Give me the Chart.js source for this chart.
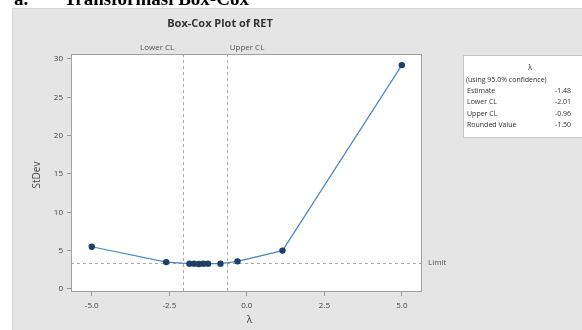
<!DOCTYPE html>
<html lang="id">
<head>
<meta charset="UTF-8">
<title>Box-Cox Plot of RET</title>
<script src="https://cdn.jsdelivr.net/npm/chart.js"></script>
<style>
  body { margin: 0; background: #fff; }
  .wrap { width: 582px; height: 330px; position: relative; }
</style>
</head>
<body>
<div class="wrap"><canvas id="boxcox" width="582" height="330"></canvas></div>
<script>
  // values
  const lambdas = [-5, -2.6, -1.85, -1.7, -1.55, -1.4, -1.25, -0.85, -0.3, 1.15, 5];
  const stdevs = [5.5, 3.5, 3.3, 3.3, 3.25, 3.3, 3.3, 3.3, 3.6, 5.0, 29.2];
  const xTicks = [-5, -2.5, 0, 2.5, 5];
  const yTicks = [0, 5, 10, 15, 20, 25, 30];
  const lowerCL = -2.05, upperCL = -0.65, limit = 3.4;
  const legendRows = [["Estimate", "-1.48"], ["Lower CL", "-2.01"], ["Upper CL", "-0.96"], ["Rounded Value", "-1.50"]];

  const font = '"Open Sans", "DejaVu Sans", sans-serif';

  const decor = {
    id: 'decor',
    beforeDraw(chart) {
      const c = chart.ctx, a = chart.chartArea;
      c.save();
      c.fillStyle = '#fff';
      c.fillRect(0, 0, 582, 330);
      c.fillStyle = '#e5e5e5';
      c.fillRect(12, 8, 570, 322);
      c.strokeStyle = '#d6d6d6';
      c.strokeRect(12.5, 8.5, 570, 322);
      c.fillStyle = '#fff';
      c.fillRect(a.left, a.top, a.right - a.left, a.bottom - a.top);
      // clipped heading of the document
      c.fillStyle = '#000';
      c.font = 'bold 19px "Liberation Serif", "DejaVu Serif", serif';
      c.textBaseline = 'alphabetic';
      c.fillText('a.', 14, 5);
      c.fillText('Transformasi Box-Cox', 64, 5);
      c.restore();
    },
    beforeDatasetsDraw(chart) {
      const c = chart.ctx, a = chart.chartArea;
      const xs = chart.scales.x, ys = chart.scales.y;
      c.save();
      c.strokeStyle = '#a9a9a9';
      c.lineWidth = 1;
      c.setLineDash([3, 3]);
      [lowerCL, upperCL].forEach(v => {
        const px = Math.round(xs.getPixelForValue(v)) + 0.5;
        c.beginPath(); c.moveTo(px, a.top); c.lineTo(px, a.bottom); c.stroke();
      });
      const py = Math.round(ys.getPixelForValue(limit)) + 0.5;
      c.beginPath(); c.moveTo(a.left, py); c.lineTo(a.right + 3, py); c.stroke();
      c.restore();
    },
    afterDraw(chart) {
      const c = chart.ctx, a = chart.chartArea;
      const xs = chart.scales.x, ys = chart.scales.y;
      c.save();
      c.strokeStyle = '#a0a0a0';
      c.lineWidth = 1;
      c.strokeRect(a.left + 0.5, a.top + 0.5, a.right - a.left - 1, a.bottom - a.top - 1);

      c.fillStyle = '#333';
      c.font = 'bold 11px ' + font;
      c.textAlign = 'center';
      c.textBaseline = 'middle';
      c.fillText('Box-Cox Plot of RET', 220, 24);

      c.fillStyle = '#555';
      c.font = '8px ' + font;
      c.textAlign = 'right';
      c.fillText('Lower CL', xs.getPixelForValue(lowerCL) - 9, 48);
      c.textAlign = 'left';
      c.fillText('Upper CL', xs.getPixelForValue(upperCL) + 3, 48);
      c.fillText('Limit', a.right + 6, ys.getPixelForValue(limit));

      c.font = '10px ' + font;
      c.fillStyle = '#444';
      c.textAlign = 'center';
      c.fillText('λ', (a.left + a.right) / 2 + 3, 320);
      c.translate(37, 175);
      c.rotate(-Math.PI / 2);
      c.fillText('StDev', 0, 0);
      c.restore();

      // legend box
      c.save();
      c.fillStyle = '#fff';
      c.fillRect(463, 55, 119, 82);
      c.strokeStyle = '#c8c8c8';
      c.strokeRect(463.5, 55.5, 119, 82);
      c.fillStyle = '#333';
      c.font = '7px ' + font;
      c.textBaseline = 'middle';
      c.textAlign = 'center';
      c.fillText('λ', 530, 68);
      c.textAlign = 'left';
      c.fillText('(using 95.0% confidence)', 466, 80);
      legendRows.forEach((r, i) => {
        const y = 91 + i * 11.4;
        c.textAlign = 'left';
        c.fillText(r[0], 467, y);
        c.textAlign = 'right';
        c.fillText(r[1], 571, y);
      });
      c.restore();
    }
  };

  new Chart(document.getElementById('boxcox'), {
    type: 'scatter',
    data: {
      datasets: [{
        data: lambdas.map((v, i) => ({ x: v, y: stdevs[i] })),
        showLine: true,
        borderColor: '#4a86c5',
        borderWidth: 1.2,
        pointBackgroundColor: '#1f3f68',
        pointBorderColor: '#1f3f68',
        pointRadius: 2.6,
        tension: 0
      }]
    },
    options: {
      responsive: false,
      animation: false,
      events: [],
      layout: { padding: { left: 0, top: 54, right: 160, bottom: 0 } },
      plugins: { legend: { display: false }, tooltip: { enabled: false } },
      scales: {
        x: {
          type: 'linear',
          min: -5.67, max: 5.65,
          afterBuildTicks: s => { s.ticks = xTicks.map(v => ({ value: v })); },
          afterFit: s => { s.height = 38; },
          grid: { drawOnChartArea: false, drawTicks: true, tickLength: 4, color: '#9a9a9a' },
          border: { display: false },
          ticks: {
            color: '#444', font: { size: 8, family: font }, padding: 5,
            callback: v => v.toFixed(1)
          }
        },
        y: {
          type: 'linear',
          min: -0.4, max: 30.65,
          afterBuildTicks: s => { s.ticks = yTicks.map(v => ({ value: v })); },
          afterFit: s => { s.width = 71; },
          grid: { drawOnChartArea: false, drawTicks: true, tickLength: 4, color: '#9a9a9a' },
          border: { display: false },
          ticks: { color: '#444', font: { size: 8, family: font }, padding: 4 }
        }
      }
    },
    plugins: [decor]
  });
</script>
</body>
</html>
